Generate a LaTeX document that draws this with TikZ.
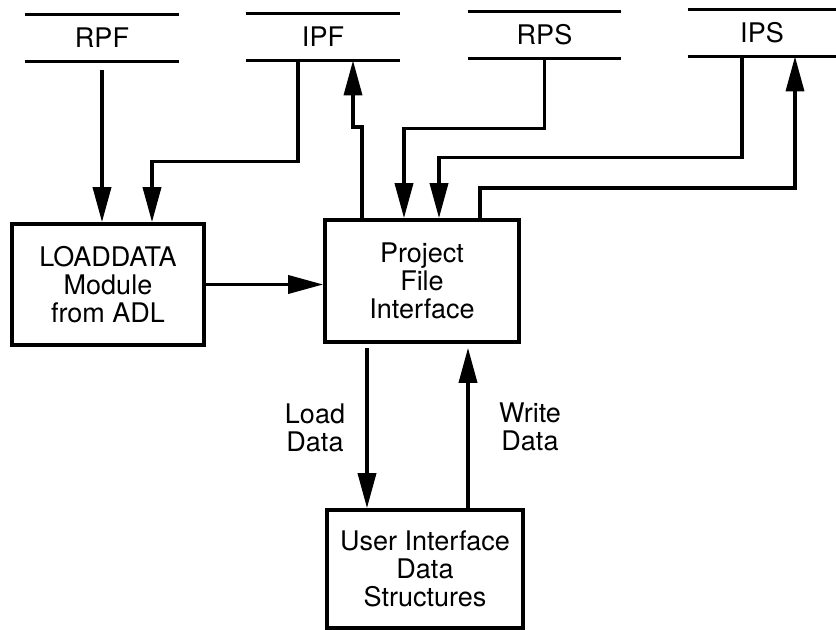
\documentclass[tikz,border=0pt]{standalone}
\usepackage{fontspec}
\setmainfont{TeX Gyre Heros}
\usetikzlibrary{arrows.meta}
\begin{document}
\begin{tikzpicture}[x=0.5pt,y=-0.5pt,
  ink/.style={line width=1.8pt},
  txt/.style={font=\fontsize{13.5}{14}\selectfont},
  box/.style={draw, ink, txt, align=center, inner sep=0pt},
  store/.style={txt, inner sep=0pt, minimum height=23pt},
  flow/.style={ink, -{Triangle[length=17.5pt,width=9pt]}},
  note/.style={txt, align=center, inner sep=0pt}]
\useasboundingbox (0,0) rectangle (836,630);

% data stores (open-ended, two horizontal rules)
\node[store, minimum width=77pt] (rpf) at (102,38) {RPF};
\node[store, minimum width=77pt] (ipf) at (323,37) {IPF};
\node[store, minimum width=76.5pt] (rps) at (544.5,35) {RPS};
\node[store, minimum width=74pt] (ips) at (762,33) {IPS};
\foreach \s in {rpf,ipf,rps,ips}{
  \draw[ink] (\s.north west) -- (\s.north east);
  \draw[ink] (\s.south west) -- (\s.south east);
}

% processing blocks
\node[box, minimum width=96pt, minimum height=60.5pt] (load) at (108,284.5)
  {LOADDATA\\Module\\from ADL};
\node[box, minimum width=97pt, minimum height=61pt] (pfi) at (422,281)
  {Project\\File\\Interface};
\node[box, minimum width=98pt, minimum height=59pt] (uids) at (425,569)
  {User Interface\\Data\\Structures};

% inputs to the loader
\draw[flow, shorten <=4.5pt] (rpf.south) -- (rpf.south |- load.north);
\draw[flow] ([xshift=-12.5pt]ipf.south) -- ++(0,101) -| ([xshift=22pt]load.north);

% loader feeds the project file interface
\draw[flow] (load.east) -- (load.east -| pfi.west);

% project file interface <-> stores
\draw[flow] ([xshift=-30pt]pfi.north) -- ++(0,-91) -- ++(-9,0) coordinate (jog)
  -- (jog |- ipf.south);
\draw[flow] (rps.south) -- ++(0,70) -| ([xshift=-9pt]pfi.north);
\draw[flow] ([xshift=-10pt]ips.south) -- ++(0,101) -| ([xshift=8.5pt]pfi.north);
\draw[flow] ([xshift=29pt]pfi.north) -- ++(0,-30) -| ([xshift=16.5pt]ips.south);

% project file interface <-> user interface data
\draw[flow, shorten <=2pt] ([xshift=-27.5pt]pfi.south) -- ([xshift=-29pt]uids.north);
\draw[flow, shorten >=2pt] ([xshift=21.5pt]uids.north) -- ([xshift=23pt]pfi.south);

\node[note] (loadlbl) at (315,428) {Load\\Data};
\node[note] (writelbl) at (530,427) {Write\\Data};
\end{tikzpicture}
\end{document}
